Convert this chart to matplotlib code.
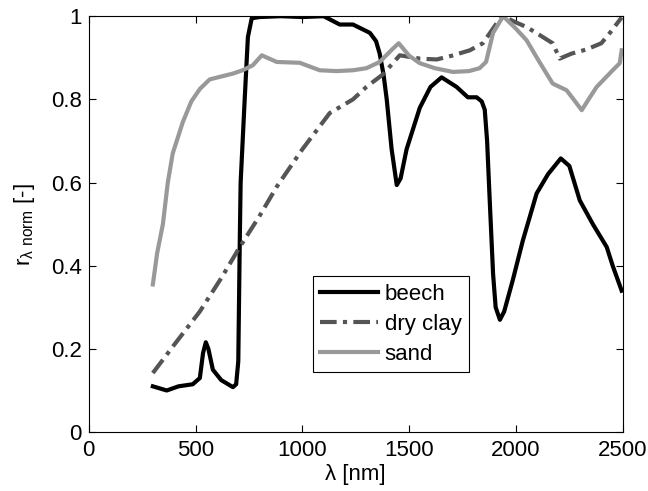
import matplotlib.pyplot as plt

plt.rcParams['font.family'] = ['Liberation Sans', 'DejaVu Sans']

# beech leaf spectrum (normalised)
beech_wl = [300, 365, 420, 487, 520, 535, 548, 560, 581, 620, 675, 690, 700, 707, 711, 730, 745, 763,
            800, 900, 1000, 1100, 1175, 1237, 1316, 1345, 1362, 1380, 1395, 1418, 1442, 1460, 1488,
            1550, 1600, 1652, 1722, 1775, 1816, 1840, 1854, 1865, 1877, 1893, 1905, 1925, 1945, 1985,
            2032, 2097, 2150, 2210, 2250, 2299, 2360, 2425, 2453, 2495]
beech_r = [0.11, 0.10, 0.11, 0.115, 0.13, 0.19, 0.216, 0.20, 0.15, 0.125, 0.108, 0.115, 0.17, 0.46,
           0.6, 0.8, 0.95, 0.995, 0.998, 1.0, 0.998, 1.0, 0.98, 0.98, 0.96, 0.94, 0.91, 0.86, 0.80,
           0.68, 0.594, 0.61, 0.68, 0.78, 0.83, 0.853, 0.83, 0.805, 0.805, 0.795, 0.775, 0.70, 0.56,
           0.38, 0.30, 0.27, 0.29, 0.365, 0.46, 0.574, 0.62, 0.658, 0.64, 0.557, 0.50, 0.445, 0.40,
           0.34]

# dry clay spectrum (normalised)
clay_wl = [300, 400, 520, 620, 707, 800, 880, 1000, 1128, 1237, 1300, 1377, 1420, 1456, 1550, 1629,
           1700, 1784, 1845, 1910, 1940, 2000, 2050, 2110, 2172, 2205, 2260, 2330, 2400, 2440, 2495]
clay_r = [0.142, 0.21, 0.29, 0.37, 0.445, 0.52, 0.59, 0.68, 0.767, 0.80, 0.83, 0.86, 0.885, 0.906,
          0.898, 0.896, 0.905, 0.918, 0.935, 0.983, 1.0, 0.985, 0.974, 0.955, 0.935, 0.898, 0.91,
          0.92, 0.935, 0.96, 0.997]

# sand spectrum (normalised)
sand_wl = [300, 320, 347, 370, 393, 440, 480, 520, 566, 620, 675, 720, 768, 810, 880, 988, 1081, 1160,
           1237, 1300, 1362, 1420, 1451, 1500, 1550, 1620, 1705, 1780, 1830, 1860, 1893, 1940, 2000,
           2050, 2110, 2172, 2237, 2270, 2308, 2340, 2378, 2453, 2486, 2495]
sand_r = [0.355, 0.43, 0.50, 0.60, 0.67, 0.745, 0.795, 0.825, 0.848, 0.855, 0.862, 0.87, 0.882, 0.906,
          0.89, 0.888, 0.87, 0.868, 0.87, 0.875, 0.89, 0.92, 0.935, 0.905, 0.887, 0.875, 0.866, 0.868,
          0.875, 0.89, 0.96, 1.0, 0.97, 0.942, 0.89, 0.838, 0.822, 0.80, 0.774, 0.80, 0.83, 0.87,
          0.887, 0.918]

fig = plt.figure(figsize=(6.48, 4.91), dpi=100)
ax = fig.add_axes([0.137, 0.120, 0.824, 0.847])

ax.plot(beech_wl, beech_r, color='black', lw=3, label='beech')
ax.plot(clay_wl, clay_r, color='#555555', lw=3, linestyle=(0, (4, 1.5, 1, 1.5)), label='dry clay')
ax.plot(sand_wl, sand_r, color='#999999', lw=3, label='sand')

ax.set_xlim(0, 2500)
ax.set_ylim(0, 1)
ax.set_xticks([0, 500, 1000, 1500, 2000, 2500])
ax.set_yticks([0, 0.2, 0.4, 0.6, 0.8, 1])
ax.set_yticklabels(['0', '0.2', '0.4', '0.6', '0.8', '1'])
ax.tick_params(direction='in', top=True, right=True, labelsize=16, length=5, width=0.8)
ax.tick_params(axis='x', pad=6)
ax.tick_params(axis='y', pad=5)
for s in ax.spines.values():
    s.set_linewidth(0.8)

ax.set_xlabel('λ [nm]', fontsize=16, labelpad=2)
ax.set_ylabel(r'r$_{\mathregular{\lambda\ norm}}$ [-]', fontsize=16, labelpad=10)

leg = ax.legend(loc='upper left', bbox_to_anchor=(0.419, 0.375), fontsize=16, fancybox=False,
                edgecolor='black', framealpha=1, borderpad=0.35, labelspacing=0.4,
                handlelength=2.6, handletextpad=0.3, borderaxespad=0)
leg.get_frame().set_linewidth(0.8)

fig.savefig('out.png', dpi=100)
